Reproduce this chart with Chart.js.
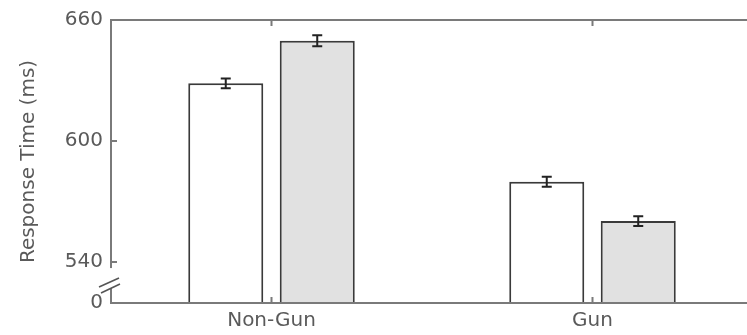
<!DOCTYPE html>
<html>
<head>
<meta charset="utf-8">
<script src="https://cdn.jsdelivr.net/npm/chart.js@4"></script>
<style>
  html, body { margin: 0; overflow: hidden; background: #fff; }
</style>
</head>
<body>
<canvas id="chart" width="760" height="335"></canvas>
<script>
const categories = ["Non-Gun", "Gun"];
const whiteMeans = [628.6, 579.8];
const whiteErr = [2.4, 2.5];
const grayMeans = [649.7, 560.3];
const grayErr = [2.7, 2.4];
const yTicks = [540, 600, 660];
const yBottom = 519.7;      // axis is broken here, labelled 0
const bottomLabel = "0";

Chart.defaults.font.family = "DejaVu Sans";
Chart.defaults.font.size = 20;
Chart.defaults.color = "#5a5a5a";

// error bars on top of every bar
const errorBars = {
  id: "errorBars",
  afterDatasetsDraw(chart) {
    const ctx = chart.ctx;
    const y = chart.scales.y;
    const errs = [whiteErr, grayErr];
    ctx.save();
    ctx.strokeStyle = "#222";
    ctx.lineWidth = 2;
    chart.data.datasets.forEach((ds, di) => {
      chart.getDatasetMeta(di).data.forEach((bar, i) => {
        const top = y.getPixelForValue(ds.data[i] + errs[di][i]);
        const bot = y.getPixelForValue(ds.data[i] - errs[di][i]);
        ctx.beginPath();
        ctx.moveTo(bar.x, top); ctx.lineTo(bar.x, bot);
        ctx.moveTo(bar.x - 5, top); ctx.lineTo(bar.x + 5, top);
        ctx.moveTo(bar.x - 5, bot); ctx.lineTo(bar.x + 5, bot);
        ctx.stroke();
      });
    });
    ctx.restore();
  }
};

// matlab style box with inward ticks and the axis break
const frame = {
  id: "frame",
  afterDraw(chart) {
    const ctx = chart.ctx;
    const a = chart.chartArea;
    const x = chart.scales.x, y = chart.scales.y;
    ctx.save();
    ctx.strokeStyle = "#7a7a7a";
    ctx.lineWidth = 2;
    ctx.beginPath();
    ctx.rect(a.left, a.top, a.right - a.left, a.bottom - a.top);
    ctx.stroke();
    ctx.beginPath();
    yTicks.forEach(v => {
      const p = y.getPixelForValue(v);
      ctx.moveTo(a.left, p); ctx.lineTo(a.left + 6, p);
      ctx.moveTo(a.right, p); ctx.lineTo(a.right - 6, p);
    });
    categories.forEach((c, i) => {
      const p = x.getPixelForValue(i);
      ctx.moveTo(p, a.bottom); ctx.lineTo(p, a.bottom - 6);
      ctx.moveTo(p, a.top); ctx.lineTo(p, a.top + 6);
    });
    ctx.stroke();
    // break: gap in the left axis with two slashes
    const gTop = y.getPixelForValue(540) + 6;
    const gBot = a.bottom - 15;
    ctx.fillStyle = "#fff";
    ctx.fillRect(a.left - 2, gTop, 4, gBot - gTop);
    ctx.strokeStyle = "#555";
    ctx.lineWidth = 1.6;
    ctx.beginPath();
    ctx.moveTo(a.left - 12, gTop + 19); ctx.lineTo(a.left + 8, gTop + 10);
    ctx.moveTo(a.left - 10, gTop + 25); ctx.lineTo(a.left + 9, gTop + 16);
    ctx.stroke();
    ctx.restore();
  }
};

new Chart(document.getElementById("chart"), {
  type: "bar",
  data: {
    labels: categories,
    datasets: [
      {
        data: whiteMeans,
        backgroundColor: "#ffffff",
        borderColor: "#3a3a3a",
        borderWidth: 2,
        borderSkipped: false
      },
      {
        data: grayMeans,
        backgroundColor: "#e1e1e1",
        borderColor: "#3a3a3a",
        borderWidth: 2,
        borderSkipped: false
      }
    ]
  },
  options: {
    responsive: false,
    animation: false,
    layout: { padding: { left: 0, top: 20, right: 7, bottom: 0 } },
    categoryPercentage: 0.57,
    barPercentage: 0.82,
    plugins: { legend: { display: false }, tooltip: { enabled: false } },
    scales: {
      x: {
        grid: { display: false, drawTicks: false },
        border: { display: false },
        ticks: { padding: 6, font: { size: 20 } },
        afterFit(s) { s.height = 32; }
      },
      y: {
        min: yBottom,
        max: 660,
        grid: { display: false, drawTicks: false },
        border: { display: false },
        ticks: {
          padding: 8,
          callback: v => (v === yBottom ? bottomLabel : v)
        },
        afterBuildTicks(s) {
          s.ticks = [yBottom, ...yTicks].map(v => ({ value: v }));
        },
        title: {
          display: true,
          text: "Response Time (ms)",
          font: { size: 20 },
          padding: { top: 17, bottom: 0 }
        },
        afterFit(s) { s.width = 111; }
      }
    }
  },
  plugins: [errorBars, frame]
});
</script>
</body>
</html>
